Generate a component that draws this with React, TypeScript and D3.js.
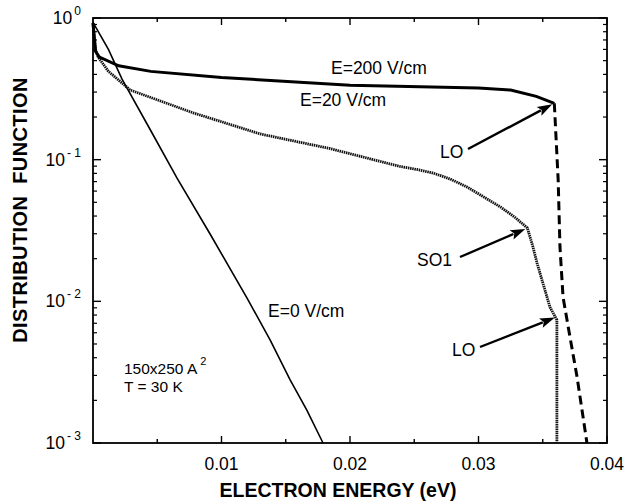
import React from "react";
import * as d3 from "d3";

// Electron energy (eV) and distribution function values for each field strength
const e0Energy = [0, 0.0012, 0.00226, 0.0045, 0.00654, 0.0091, 0.012, 0.0138, 0.01533, 0.01665, 0.0179];
const e0Value = [0.93, 0.6, 0.37, 0.16, 0.074, 0.03, 0.0105, 0.0053, 0.0028, 0.0017, 0.001];

const e20Energy = [0, 0.0002, 0.0004, 0.0012, 0.0029, 0.0078, 0.013, 0.0184, 0.0239, 0.0252, 0.02646, 0.0278, 0.0291, 0.0304, 0.0317, 0.0328, 0.0338, 0.03424, 0.03455, 0.03556, 0.0361, 0.0361];
const e20Value = [0.92, 0.6, 0.53, 0.42, 0.31, 0.214, 0.152, 0.12, 0.0895, 0.0853, 0.0805, 0.073, 0.0642, 0.0546, 0.0464, 0.0394, 0.033, 0.0242, 0.0187, 0.0091, 0.0074, 0.001];

const e200Energy = [0, 0.0002, 0.0005, 0.002, 0.0045, 0.01, 0.02, 0.03, 0.0325, 0.0345, 0.0359];
const e200Value = [0.92, 0.58, 0.53, 0.46, 0.42, 0.38, 0.335, 0.32, 0.31, 0.28, 0.25];

const e200TailEnergy = [0.0359, 0.0362, 0.03634, 0.03658, 0.03712, 0.03767, 0.03844];
const e200TailValue = [0.25, 0.072, 0.0242, 0.0107, 0.0056, 0.00292, 0.001];

const xTickValues = [0.01, 0.02, 0.03, 0.04];
const xTickLabels = ["0.01", "0.02", "0.03", "0.04"];
const yDecades = [1e-3, 1e-2, 1e-1, 1];
const yExponents = ["- 3", "- 2", "- 1", "0"];

const W = 628;
const H = 504;
const left = 93;
const right = 607;
const top = 18;
const bottom = 443;
const font = "Arial, 'Liberation Sans', Helvetica, sans-serif";

function Arrow({ x1, y1, x2, y2 }: { x1: number; y1: number; x2: number; y2: number }) {
  const ang = Math.atan2(y2 - y1, x2 - x1);
  const len = 15;
  const half = 5;
  const bx = x2 - len * Math.cos(ang);
  const by = y2 - len * Math.sin(ang);
  const px = -Math.sin(ang) * half;
  const py = Math.cos(ang) * half;
  return (
    <g>
      <line x1={x1} y1={y1} x2={bx + 2 * Math.cos(ang)} y2={by + 2 * Math.sin(ang)} stroke="#000" strokeWidth={2.4} />
      <polygon points={`${x2},${y2} ${bx + px},${by + py} ${bx + 3 * Math.cos(ang)},${by + 3 * Math.sin(ang)} ${bx - px},${by - py}`} fill="#000" />
    </g>
  );
}

export default function App() {
  const x = d3.scaleLinear().domain([0, 0.04]).range([left, right]);
  const y = d3.scaleLog().domain([1e-3, 1]).range([bottom, top]);

  const line = (xs: number[], ys: number[]) =>
    d3
      .line<number>()
      .x((_, i) => x(xs[i]))
      .y((_, i) => y(ys[i]))(ys.map((_, i) => i)) as string;

  const xMinor = d3.range(0.005, 0.04, 0.005);
  const yMinor: number[] = [];
  for (let k = 0; k < 3; k++) {
    for (let m = 2; m <= 9; m++) yMinor.push(m * yDecades[k]);
  }

  const kneeE200: [number, number] = [x(0.0359), y(0.25)];
  const kneeSO1: [number, number] = [x(0.0338), y(0.033)];
  const kneeLO: [number, number] = [x(0.0361), y(0.0078)];

  return (
    <svg width={W} height={H} style={{ position: "absolute", left: 0, top: 0, background: "#fff" }} fontFamily={font}>
      <rect x={0} y={0} width={W} height={H} fill="#fff" />
      {/* ticks on all four sides, pointing inward */}
      {xMinor.map((v, i) => {
        const major = i % 2 === 1;
        const l = major ? 7 : 4;
        return (
          <g key={`xt${i}`} stroke="#000" strokeWidth={1.4}>
            <line x1={x(v)} x2={x(v)} y1={bottom} y2={bottom - l} />
            <line x1={x(v)} x2={x(v)} y1={top} y2={top + l} />
          </g>
        );
      })}
      {yDecades.map((v) => (
        <g key={`yd${v}`} stroke="#000" strokeWidth={1.4}>
          <line x1={left} x2={left + 8} y1={y(v)} y2={y(v)} />
          <line x1={right} x2={right - 8} y1={y(v)} y2={y(v)} />
        </g>
      ))}
      {yMinor.map((v) => (
        <g key={`ym${v}`} stroke="#000" strokeWidth={1.2}>
          <line x1={left} x2={left + 4} y1={y(v)} y2={y(v)} />
          <line x1={right} x2={right - 4} y1={y(v)} y2={y(v)} />
        </g>
      ))}
      <rect x={left} y={top} width={right - left} height={bottom - top} fill="none" stroke="#000" strokeWidth={1.8} />

      {/* tick labels */}
      {xTickValues.map((v, i) => (
        <text key={`xl${v}`} x={x(v)} y={470} fontSize={17.5} textAnchor="middle" fill="#000">
          {xTickLabels[i]}
        </text>
      ))}
      {yDecades.map((v, i) => (
        <text key={`yl${v}`} x={81} y={y(v) + 6} fontSize={17.5} textAnchor="end" fill="#000">
          10
          <tspan fontSize={12} dx={2} dy={-9}>
            {yExponents[i]}
          </tspan>
        </text>
      ))}

      {/* axis titles */}
      <text x={338} y={497} fontSize={19.5} fontWeight="bold" textAnchor="middle" fill="#000">
        ELECTRON ENERGY (eV)
      </text>
      <text
        transform={`translate(27,210) rotate(-90)`}
        fontSize={20}
        fontWeight="bold"
        letterSpacing={0.4}
        textAnchor="middle"
        fill="#000"
        style={{ whiteSpace: "pre" }}
      >
        {"DISTRIBUTION  FUNCTION"}
      </text>

      {/* curves */}
      <path d={line(e0Energy, e0Value)} fill="none" stroke="#000" strokeWidth={1.6} />
      <path d={line(e20Energy, e20Value)} fill="none" stroke="#111" strokeWidth={2.8} strokeDasharray="1.5 0.7" />
      <path d={line(e200Energy, e200Value)} fill="none" stroke="#000" strokeWidth={3} />
      <path d={line(e200TailEnergy, e200TailValue)} fill="none" stroke="#000" strokeWidth={3} strokeDasharray="9 5" />

      {/* annotations */}
      <text x={331} y={74} fontSize={17.5} fill="#000">E=200 V/cm</text>
      <text x={300} y={106} fontSize={17.5} fill="#000">E=20 V/cm</text>
      <text x={268} y={317} fontSize={17.5} fill="#000">E=0 V/cm</text>
      <text x={440} y={158} fontSize={17.5} fill="#000">LO</text>
      <text x={417} y={266} fontSize={17.5} fill="#000">SO1</text>
      <text x={452} y={356} fontSize={17.5} fill="#000">LO</text>
      <Arrow x1={468} y1={149} x2={kneeE200[0] - 2} y2={kneeE200[1] + 1} />
      <Arrow x1={460} y1={257} x2={kneeSO1[0] - 2} y2={kneeSO1[1] + 1} />
      <Arrow x1={480} y1={347} x2={kneeLO[0] - 2} y2={kneeLO[1] + 1} />

      <text x={124} y={374} fontSize={15.5} fill="#000">
        150x250 A
        <tspan fontSize={11} dy={-9} dx={3}>2</tspan>
      </text>
      <text x={124} y={392} fontSize={15.5} fill="#000">T = 30 K</text>
    </svg>
  );
}
